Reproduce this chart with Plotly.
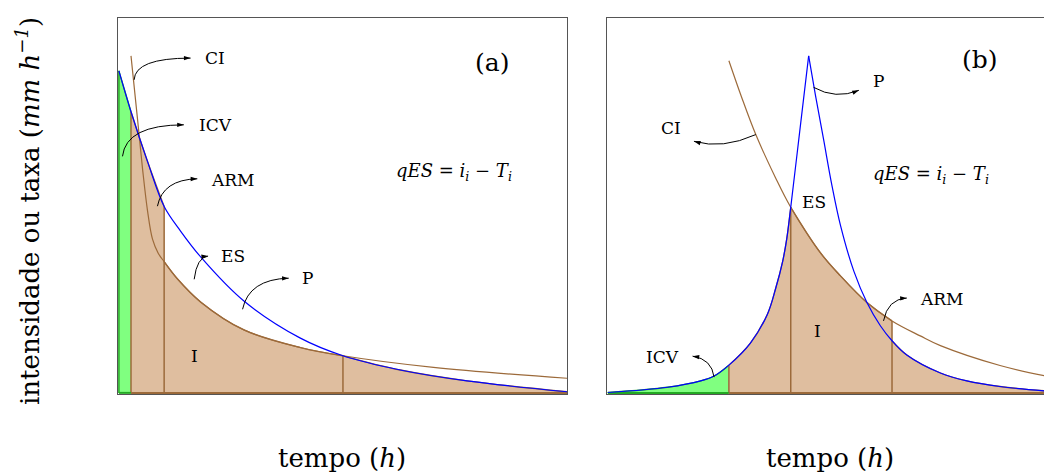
import math
import plotly.graph_objects as go

# ---- data (time in h, intensity in mm/h, arbitrary units) ----
# panel (a): rainfall decreasing with time
t_p_a = [0.0, 0.27, 0.64, 1.01, 1.38, 1.83, 2.79, 4.05, 5.0, 6.28, 7.77, 10.0]
p_a = [8.59, 7.50, 6.17, 4.97, 4.31, 3.62, 2.45, 1.46, 0.99, 0.61, 0.32, 0.03]
t_ci_a = [0.27, 0.42, 0.53, 0.64, 0.75, 0.88, 1.01, 1.30, 1.83, 2.79, 4.05, 5.0, 7.02, 10.0]
ci_a = [8.99, 7.25, 5.95, 4.85, 4.10, 3.72, 3.50, 3.05, 2.42, 1.68, 1.21, 0.99, 0.68, 0.39]
cuts_a = [0.27, 1.01, 5.0]  # end of ICV, end of ARM, end of ES

# panel (b): rainfall with a peak
t_p_b = [0.0, 1.33, 2.07, 2.37, 2.70, 3.18, 3.56, 3.74, 3.90, 3.99, 4.08, 4.28, 4.48,
         4.63, 4.81, 5.00, 5.19, 5.49, 5.78, 6.08, 6.34, 6.67, 7.42, 8.01, 8.75, 9.90]
p_b = [0.01, 0.15, 0.32, 0.45, 0.74, 1.33, 2.10, 2.77, 3.51, 4.10, 4.95, 6.97, 8.99,
       7.95, 6.78, 5.53, 4.47, 3.24, 2.41, 1.79, 1.39, 1.01, 0.53, 0.32, 0.17, 0.04]
t_ci_b = [2.70, 2.98, 3.30, 3.74, 4.08, 4.74, 5.19, 5.78, 6.34, 6.97, 7.42, 8.75, 9.90]
ci_b = [8.86, 7.90, 6.89, 5.74, 4.95, 3.74, 3.12, 2.41, 1.92, 1.52, 1.26, 0.73, 0.42]
cuts_b = [2.70, 4.08, 6.34]

TAN = "#dfbe9f"
BROWN = "#9c6a3a"
GREEN_FILL = "#80ff80"
GREEN_LINE = "#22aa22"
BLUE = "#0000ff"
FONT = "DejaVu Serif"
PX_X, PX_Y = 44.9, 37.6  # pixels per unit on both panels
W, H = 1044, 466  # page body adds an 8px margin


def pick(xs, ys, lo, hi):
    pts = [(x, y) for x, y in zip(xs, ys) if lo <= x <= hi]
    return [p[0] for p in pts], [p[1] for p in pts]


fig = go.Figure()


def panel(xa, ya, tp, p, tci, ci, cuts, split_peak):
    c0, c1, c2 = cuts
    segs = [
        pick(tp, p, 0, c0),
        pick(tp, p, c0, c1),
        pick(tci, ci, c1, c2),
        pick(tp, p, c2, max(tp)),
    ]
    # fills
    for i, (sx, sy) in enumerate(segs):
        fig.add_trace(go.Scatter(
            x=sx, y=sy, xaxis=xa, yaxis=ya, mode="lines", fill="tozeroy",
            fillcolor=GREEN_FILL if i == 0 else TAN,
            line=dict(color=GREEN_LINE if i == 0 else BROWN, width=1.3, shape="spline"),
            hoverinfo="skip", showlegend=False))
    # vertical dividers and baseline
    for k, c in enumerate(cuts):
        top = max(segs[k][1][-1], segs[k + 1][1][0])
        fig.add_trace(go.Scatter(x=[c, c], y=[0, top], xaxis=xa, yaxis=ya, mode="lines",
                                 line=dict(color=BROWN, width=1.5),
                                 hoverinfo="skip", showlegend=False))
    fig.add_trace(go.Scatter(x=[0, 0], y=[0, p[0]], xaxis=xa, yaxis=ya, mode="lines",
                             line=dict(color=GREEN_LINE, width=1.5),
                             hoverinfo="skip", showlegend=False))
    fig.add_trace(go.Scatter(x=[0, c0], y=[0, 0], xaxis=xa, yaxis=ya, mode="lines",
                             line=dict(color=GREEN_LINE, width=2),
                             hoverinfo="skip", showlegend=False))
    fig.add_trace(go.Scatter(x=[c0, max(tp)], y=[0, 0], xaxis=xa, yaxis=ya, mode="lines",
                             line=dict(color=BROWN, width=2),
                             hoverinfo="skip", showlegend=False))
    # infiltration capacity curve
    fig.add_trace(go.Scatter(x=tci, y=ci, xaxis=xa, yaxis=ya, mode="lines",
                             line=dict(color=BROWN, width=1.2, shape="spline"),
                             hoverinfo="skip", showlegend=False))
    # rainfall curve
    if split_peak:
        k = p.index(max(p))
        parts = [(tp[:k + 1], p[:k + 1]), (tp[k:], p[k:])]
    else:
        parts = [(tp, p)]
    for sx, sy in parts:
        fig.add_trace(go.Scatter(x=sx, y=sy, xaxis=xa, yaxis=ya, mode="lines",
                                 line=dict(color=BLUE, width=1.2, shape="spline"),
                                 hoverinfo="skip", showlegend=False))


panel("x", "y", t_p_a, p_a, t_ci_a, ci_a, cuts_a, False)
panel("x2", "y2", t_p_b, p_b, t_ci_b, ci_b, cuts_b, True)

shapes = []
annotations = []


def curved_arrow(xr, yr, start, ctrl, end):
    (x0, y0), (cx, cy), (x1, y1) = start, ctrl, end
    shapes.append(dict(type="path", xref=xr, yref=yr,
                       path=f"M {x0},{y0} Q {cx},{cy} {x1},{y1}",
                       line=dict(color="black", width=1)))
    # arrow head: marker tip sits on the end point, turned along the curve tangent
    dx, dy = (x1 - cx) * PX_X, (y1 - cy) * PX_Y
    ang = math.degrees(math.atan2(dx, dy))
    fig.add_trace(go.Scatter(x=[x1], y=[y1], xaxis=xr, yaxis=yr, mode="markers",
                             marker=dict(symbol="arrow", size=7, angle=ang, color="black",
                                         line=dict(width=0)),
                             cliponaxis=False, hoverinfo="skip", showlegend=False))


def label(xr, yr, x, y, text, anchor="left", size=17):
    annotations.append(dict(x=x, y=y, xref=xr, yref=yr, text=text, showarrow=False,
                            xanchor=anchor, yanchor="middle",
                            font=dict(family=FONT, size=size, color="black")))


eq = "<i>qES</i> = <i>i<sub>i</sub></i> − <i>T<sub>i</sub></i>"

# panel (a) labels
curved_arrow("x", "y", (0.34, 8.35), (0.36, 8.93), (1.60, 8.93))
label("x", "y", 1.87, 8.93, "CI")
curved_arrow("x", "y", (0.08, 6.31), (0.16, 7.15), (1.45, 7.15))
label("x", "y", 1.75, 7.15, "ICV")
curved_arrow("x", "y", (0.86, 4.98), (0.98, 5.69), (1.75, 5.71))
label("x", "y", 2.01, 5.69, "ARM")
curved_arrow("x", "y", (1.68, 3.03), (1.74, 3.62), (1.99, 3.65))
label("x", "y", 2.23, 3.64, "ES")
curved_arrow("x", "y", (2.76, 2.23), (2.90, 3.03), (3.79, 3.06))
label("x", "y", 4.04, 3.06, "P")
label("x", "y", 1.68, 0.99, "I", "center")
label("x", "y", 8.33, 8.80, "(a)", "center", 25)
label("x", "y", 7.47, 5.88, eq, "center", 18)

# panel (b) labels
curved_arrow("x2", "y2", (3.30, 6.89), (2.56, 6.49), (1.92, 6.71))
label("x2", "y2", 1.67, 7.07, "CI", "right")
curved_arrow("x2", "y2", (4.59, 8.15), (5.08, 7.82), (5.60, 8.07))
label("x2", "y2", 5.86, 8.31, "P")
curved_arrow("x2", "y2", (6.15, 1.92), (6.24, 2.50), (6.67, 2.53))
label("x2", "y2", 6.93, 2.50, "ARM")
curved_arrow("x2", "y2", (2.37, 0.42), (2.32, 0.90), (1.89, 0.98))
label("x2", "y2", 1.63, 0.96, "ICV", "right")
label("x2", "y2", 4.61, 5.08, "ES", "center")
label("x2", "y2", 4.68, 1.66, "I", "center")
label("x2", "y2", 8.31, 8.88, "(b)", "center", 25)
label("x2", "y2", 7.21, 5.82, eq, "center", 18)

# axis titles
annotations.append(dict(x=20 / W, y=(H - 203) / H, xref="paper", yref="paper", textangle=-90,
                        text="intensidade ou taxa (<i>mm h<sup>−1</sup></i>)",
                        showarrow=False, xanchor="center", yanchor="middle",
                        font=dict(family=FONT, size=26, color="black")))
for xc in [334 / W, 822 / W]:
    annotations.append(dict(x=xc, y=(H - 450) / H, xref="paper", yref="paper",
                            text="tempo (<i>h</i>)",
                            showarrow=False, xanchor="center", yanchor="middle",
                            font=dict(family=FONT, size=26, color="black")))

ax_common = dict(showgrid=False, zeroline=False, showticklabels=False, ticks="",
                 showline=True, linecolor="#555555", linewidth=1.2)
ydom = [(H - 386) / H, (H - 10) / H]
fig.update_layout(
    width=W, height=H,
    margin=dict(l=0, r=0, t=0, b=0),
    paper_bgcolor="white", plot_bgcolor="white",
    xaxis=dict(domain=[110 / W, 559 / W], range=[-0.02, 10.0], mirror=True,
               anchor="y", **ax_common),
    yaxis=dict(domain=ydom, range=[-0.03, 10], mirror=True, anchor="x", **ax_common),
    xaxis2=dict(domain=[599 / W, 1.0], range=[-0.02, 9.91], mirror=True,
                anchor="y2", **ax_common),
    yaxis2=dict(domain=ydom, range=[-0.03, 10], mirror=False, anchor="x2", **ax_common),
    shapes=shapes,
    annotations=annotations,
)

fig.write_html("out.html")
